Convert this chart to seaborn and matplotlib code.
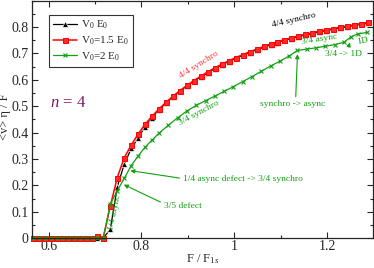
import numpy as np
import pandas as pd
import seaborn as sns
import matplotlib.pyplot as plt
from matplotlib.ticker import MultipleLocator, FixedLocator, FuncFormatter

# data
f_zero = [0.5675, 0.58, 0.5925, 0.605, 0.6175, 0.63, 0.6425, 0.655, 0.6675, 0.68, 0.6925, 0.705, 0.7175]

f_rb = f_zero + [0.733, 0.748, 0.763, 0.778, 0.793, 0.808, 0.823, 0.838, 0.853, 0.868, 0.883, 0.898,
                 0.913, 0.928, 0.943, 0.958, 0.973, 0.988, 1.003, 1.018, 1.033, 1.048, 1.063, 1.078,
                 1.093, 1.108, 1.123, 1.138, 1.153, 1.168, 1.183, 1.198, 1.213, 1.228, 1.243, 1.258,
                 1.273, 1.288]

v_red = [0, 0, 0, 0, 0, 0, 0, 0, 0, 0, 0, 0.008, 0,
         0.122, 0.23, 0.305, 0.353, 0.395, 0.432, 0.462, 0.49, 0.515, 0.538, 0.559, 0.579,
         0.597, 0.614, 0.63, 0.645, 0.659, 0.672, 0.684, 0.695, 0.706, 0.716, 0.726, 0.735,
         0.744, 0.752, 0.759, 0.766, 0.772, 0.778, 0.784, 0.789, 0.794, 0.799, 0.804, 0.808,
         0.813, 0.817]

v_black = [0, 0, 0, 0, 0, 0, 0, 0, 0, 0, 0, 0, 0,
           0.034, 0.195, 0.28, 0.34, 0.38, 0.423, 0.457, 0.486, 0.511, 0.535, 0.556, 0.576,
           0.594, 0.611, 0.627, 0.642, 0.656, 0.669, 0.681, 0.692, 0.703, 0.713, 0.723, 0.732,
           0.741, 0.749, 0.756, 0.763, 0.769, 0.775, 0.781, 0.786, 0.791, 0.796, 0.801, 0.805,
           0.81, 0.814]

f_green = f_zero + [0.733, 0.748, 0.763, 0.778, 0.793, 0.808, 0.823, 0.838, 0.858, 0.878, 0.898,
                    0.918, 0.938, 0.958, 0.978, 0.998, 1.018, 1.038, 1.058, 1.078, 1.098, 1.118,
                    1.136, 1.156, 1.176, 1.196, 1.216, 1.236, 1.251, 1.266, 1.286]

v_green = [0, 0, 0, 0, 0, 0, 0, 0, 0, 0, 0, 0, 0,
           0.13, 0.18, 0.227, 0.275, 0.312, 0.345, 0.372, 0.398, 0.428, 0.456, 0.482,
           0.503, 0.521, 0.538, 0.556, 0.574, 0.593, 0.612, 0.632, 0.652, 0.67, 0.69,
           0.711, 0.716, 0.721, 0.727, 0.733, 0.742, 0.762, 0.774, 0.779]

labels = ['V$_0$ E$_0$', 'V$_0$=1.5 E$_0$', 'V$_0$=2 E$_0$']
y_ticks = [0, 0.1, 0.2, 0.3, 0.4, 0.5, 0.6, 0.7, 0.8]

GREEN = '#13a013'
RED = '#ff0000'

sns.set_style('ticks')
plt.rcParams['font.family'] = ['Liberation Serif', 'DejaVu Serif']
plt.rcParams['mathtext.fontset'] = 'custom'
plt.rcParams['mathtext.rm'] = 'Liberation Serif'
plt.rcParams['mathtext.it'] = 'Liberation Serif:italic'

fig = plt.figure(figsize=(3.74, 2.68), dpi=100)
ax = fig.add_axes([0.0864, 0.111, 0.9101, 0.887])

sns.lineplot(x=f_rb, y=v_black, ax=ax, color='black', lw=0.9, marker='^', markersize=3.8,
             markeredgewidth=0.5, label=labels[0], clip_on=False)
sns.lineplot(x=f_rb, y=v_red, ax=ax, color=RED, lw=1.1, marker='s', markersize=3.6,
             markerfacecolor='#ff2a2a', markeredgecolor=RED, markeredgewidth=0.7,
             label=labels[1], clip_on=False)
sns.lineplot(x=f_green, y=v_green, ax=ax, color=GREEN, lw=0.9, marker='x', markersize=2.8,
             markeredgewidth=0.8, markeredgecolor=GREEN, label=labels[2], clip_on=False)

ax.set_xlim(0.565, 1.298)
ax.set_ylim(0, 0.9)
ax.xaxis.set_major_locator(MultipleLocator(0.2))
ax.xaxis.set_minor_locator(MultipleLocator(0.1))
ax.yaxis.set_major_locator(FixedLocator(y_ticks))
ax.yaxis.set_minor_locator(MultipleLocator(0.05))
fmt = FuncFormatter(lambda v, p: '%g' % round(v, 3))
ax.xaxis.set_major_formatter(fmt)
ax.yaxis.set_major_formatter(fmt)
ax.tick_params(which='both', direction='in', top=True, right=True, labelsize=10, width=0.8)
ax.tick_params(which='major', length=4.5, pad=2.5)
ax.tick_params(axis='x', which='major', pad=1.5)
ax.tick_params(which='minor', length=2.5)
for s in ax.spines.values():
    s.set_linewidth(0.9)

ax.set_xlabel('F / F$_{1s}$', fontsize=9, labelpad=0)
ax.xaxis.set_label_coords(0.5, -0.058)
ax.set_ylabel('<v> η / F', fontsize=9)
ax.yaxis.set_label_coords(-0.062, 0.51)

leg = ax.legend(loc='upper left', bbox_to_anchor=(0.048, 0.94), borderaxespad=0, fontsize=8,
                frameon=True, fancybox=False, edgecolor='black', handlelength=2.2,
                labelspacing=0.3, borderpad=0.35, handletextpad=0.4)
leg.get_frame().set_linewidth(0.8)

ax.text(0.603, 0.512, '$n$ = 4', color='#7a1a6a', fontsize=12, va='center', ha='left')

ax.text(1.129, 0.827, '4/4 synchro', fontsize=6.8, color='black', rotation=13, ha='center', va='center')
ax.text(0.924, 0.655, '4/4 synchro', fontsize=6.8, color='#ff3535', rotation=32, ha='center', va='center')
ax.text(0.924, 0.474, '3/4 synchro', fontsize=6.8, color=GREEN, rotation=28, ha='center', va='center')
ax.text(1.183, 0.754, '3/4 async', fontsize=6.8, color=GREEN, rotation=9, ha='center', va='center')
ax.text(1.276, 0.748, '1D', fontsize=6.8, color=GREEN, rotation=10, ha='center', va='center')
ax.text(0.743, 0.097, '1/4 async', fontsize=6.8, color=GREEN, rotation=78, ha='center', va='center')

arrow = dict(arrowstyle='-|>', color=GREEN, lw=0.8, mutation_scale=6, shrinkA=0, shrinkB=0)
ax.annotate('synchro -> async', xy=(1.136, 0.697), xytext=(1.125, 0.508), fontsize=6.8,
            color=GREEN, ha='center', va='center', arrowprops=dict(arrow, relpos=(0.55, 1.0)))
ax.annotate('3/4 -> 1D', xy=(1.249, 0.742), xytext=(1.236, 0.697), fontsize=6.8,
            color=GREEN, ha='center', va='center', arrowprops=dict(arrow, relpos=(0.6, 1.0)))
ax.annotate('1/4 async defect -> 3/4 synchro', xy=(0.776, 0.256), xytext=(0.889, 0.226),
            fontsize=6.8, color=GREEN, ha='left', va='center',
            arrowprops=dict(arrow, relpos=(0.0, 0.5)))
ax.annotate('3/5 defect', xy=(0.762, 0.203), xytext=(0.848, 0.122), fontsize=6.8,
            color=GREEN, ha='left', va='center', arrowprops=dict(arrow, relpos=(0.0, 0.8)))

fig.savefig('out.png', dpi=100)
